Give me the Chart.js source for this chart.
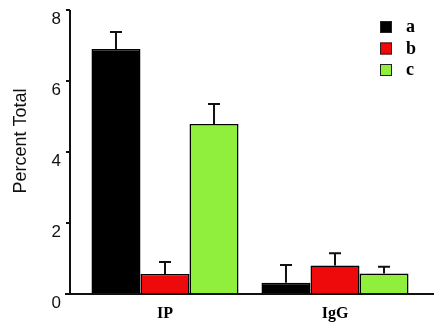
<!DOCTYPE html>
<html>
<head>
<meta charset="utf-8">
<title>Percent Total</title>
<script src="https://cdn.jsdelivr.net/npm/chart.js@4"></script>
<style>
    html, body { margin: 0; padding: 0; background: #fff; }
    #wrap { width: 441px; height: 329px; }
</style>
</head>
<body>
<div id="wrap"><canvas id="pctChart" width="441" height="329"></canvas></div>
<script>
// Groups and series
const categories = ['IP', 'IgG'];
const seriesNames = ['a', 'b', 'c'];
const seriesColors = ['#000000', '#ee0a0a', '#90ee3c'];

// Mean values per group (IP, IgG) and upper error
const aValues = [6.90, 0.32];
const aErrors = [0.48, 0.50];
const bValues = [0.56, 0.80];
const bErrors = [0.34, 0.35];
const cValues = [4.79, 0.58];
const cErrors = [0.56, 0.19];

const yTicks = [0, 2, 4, 6, 8];
const yTitle = 'Percent Total';

const allValues = [aValues, bValues, cValues];
const allErrors = [aErrors, bErrors, cErrors];

// Axis lines, tick marks and rotated y title, drawn from the scales
const axesPlugin = {
    id: 'axesPlugin',
    afterDraw(chart) {
        const c = chart.ctx;
        const y = chart.scales.y;
        const area = chart.chartArea;
        const axisX = area.left - 10;
        const baseY = y.getPixelForValue(0);
        c.save();
        c.strokeStyle = '#111';
        c.lineWidth = 2;
        c.beginPath();
        c.moveTo(axisX, y.getPixelForValue(yTicks[yTicks.length - 1]));
        c.lineTo(axisX, baseY);
        c.moveTo(axisX - 5, baseY);
        c.lineTo(area.right + 14, baseY);
        yTicks.forEach(v => {
            if (v === 0) return;
            const py = y.getPixelForValue(v);
            c.moveTo(axisX - 4, py);
            c.lineTo(axisX, py);
        });
        c.stroke();

        c.fillStyle = '#111';
        c.font = '18px "Liberation Sans", Arial, sans-serif';
        c.textAlign = 'center';
        c.textBaseline = 'middle';
        c.translate(21, 141);
        c.rotate(-Math.PI / 2);
        c.fillText(yTitle, 0, 0);
        c.restore();
    }
};

// Upper error bars with caps
const errorBarPlugin = {
    id: 'errorBarPlugin',
    afterDatasetsDraw(chart) {
        const c = chart.ctx;
        const y = chart.scales.y;
        c.save();
        c.strokeStyle = '#111';
        c.lineWidth = 2;
        chart.data.datasets.forEach((ds, di) => {
            const meta = chart.getDatasetMeta(di);
            meta.data.forEach((bar, i) => {
                const top = y.getPixelForValue(allValues[di][i] + allErrors[di][i]);
                c.beginPath();
                c.moveTo(bar.x, bar.y);
                c.lineTo(bar.x, top);
                c.moveTo(bar.x - 6, top);
                c.lineTo(bar.x + 6, top);
                c.stroke();
            });
        });
        c.restore();
    }
};

// Legend: small squares with bold serif labels
const legendPlugin = {
    id: 'legendPlugin',
    afterDraw(chart) {
        const c = chart.ctx;
        c.save();
        c.font = 'bold 18px "Liberation Serif", "Times New Roman", serif';
        c.textAlign = 'left';
        c.textBaseline = 'alphabetic';
        chart.data.datasets.forEach((ds, i) => {
            const top = 21 + i * 21.5;
            c.fillStyle = ds.backgroundColor;
            c.fillRect(380, top, 12, 12);
            c.strokeStyle = '#222';
            c.lineWidth = 1;
            c.strokeRect(380.5, top + 0.5, 11, 11);
            c.fillStyle = '#000';
            c.fillText(ds.label, 406, top + 11);
        });
        c.restore();
    }
};

new Chart(document.getElementById('pctChart'), {
    type: 'bar',
    data: {
        labels: categories,
        datasets: seriesNames.map((name, i) => ({
            label: name,
            data: allValues[i],
            backgroundColor: seriesColors[i],
            borderColor: '#000',
            borderWidth: 1.5,
            categoryPercentage: 0.865,
            barPercentage: 1.0
        }))
    },
    options: {
        responsive: false,
        devicePixelRatio: 1,
        animation: false,
        layout: {
            padding: { left: 0, right: 21, top: 10, bottom: 0 }
        },
        plugins: {
            legend: { display: false },
            tooltip: { enabled: false }
        },
        scales: {
            x: {
                grid: { display: false, drawTicks: false },
                border: { display: false },
                ticks: {
                    padding: 10,
                    color: '#000',
                    font: { family: '"Liberation Serif", "Times New Roman", serif', size: 16, weight: 'bold' }
                },
                afterFit(scale) {
                    scale.height = 35;
                    scale.paddingLeft = 0;
                    scale.paddingRight = 0;
                }
            },
            y: {
                min: 0,
                max: 8,
                grid: { display: false, drawTicks: false },
                border: { display: false },
                ticks: {
                    stepSize: 2,
                    padding: 19,
                    labelOffset: 9,
                    color: '#111',
                    font: { family: '"Liberation Sans", Arial, sans-serif', size: 17 }
                },
                afterFit(scale) {
                    scale.width = 80;
                    scale.paddingTop = 0;
                    scale.paddingBottom = 0;
                }
            }
        }
    },
    plugins: [axesPlugin, errorBarPlugin, legendPlugin]
});
</script>
</body>
</html>
